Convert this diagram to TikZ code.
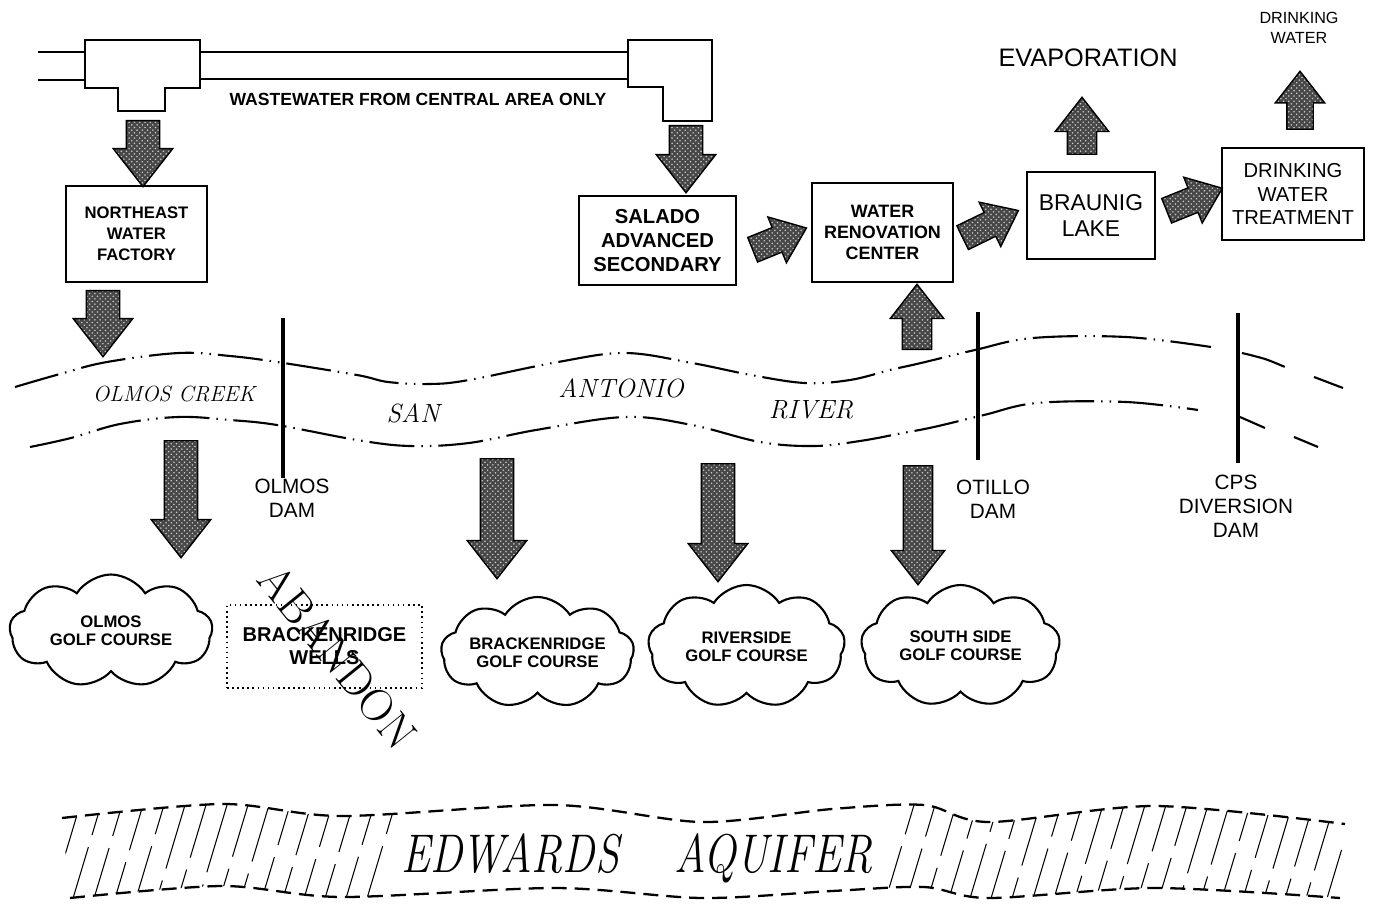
\documentclass[tikz,border=0pt]{standalone}
\usepackage{fontspec}
\setsansfont{Liberation Sans}
\usetikzlibrary{positioning, shapes.arrows, shapes.symbols, patterns}

\def\px{0.02cm}
\newcommand\boldlabel[2]{\sffamily\bfseries\fontsize{#1}{#2}\selectfont}
\newcommand\thinlabel[2]{\sffamily\fontsize{#1}{#2}\selectfont}

\tikzset{
    plant/.style={draw, line width=1.6pt, align=center, inner sep=0pt},
    golf/.style={cloud, cloud puffs=9, cloud puff arc=115, cloud ignores aspect, draw,
        line width=1.2pt, align=center, inner sep=0pt, font={\boldlabel{9.5}{10.5}}},
    damlabel/.style={align=center, font={\thinlabel{11.8}{13.7}}},
    rivername/.style={font={\itshape\fontsize{15}{18}\selectfont}},
    dam/.style={line width=2.6pt},
    pipe/.style={line width=1.3pt, line join=miter},
    riverbank/.style={line width=1.2pt,
        dash pattern=on 9mm off 1.4mm on 0.3mm off 1.4mm on 0.3mm off 1.4mm},
    aquiferbank/.style={line width=1.3pt, dash pattern=on 3mm off 1.6mm},
    hatch/.style={line width=0.6pt},
    flowarrow/.style={single arrow, draw, line width=0.8pt, preaction={fill=black!72},
        pattern=crosshatch dots, pattern color=black!22, inner xsep=0pt,
        single arrow tip angle=76},
    bigarrow/.style={flowarrow, inner ysep=0.32cm, single arrow head extend=0.26cm,
        minimum width=1.16cm},
    midarrow/.style={flowarrow, inner ysep=0.28cm, single arrow head extend=0.24cm,
        minimum width=1.04cm},
    smallarrow/.style={flowarrow, inner ysep=0.25cm, single arrow head extend=0.23cm,
        minimum width=0.96cm},
}

\begin{document}
\begin{tikzpicture}[x=\px, y=-\px]
    \useasboundingbox (0,0) rectangle (1378,905);

    % wastewater pipe with tee and elbow
    \draw[pipe] (38,52) -- (85,52);
    \draw[pipe] (38,80) -- (85,80);
    \draw[pipe] (85,40) -- (200,40) -- (200,88) -- (165,88) -- (165,111)
        -- (118,111) -- (118,88) -- (85,88) -- cycle;
    \draw[pipe] (200,52) -- (628,52);
    \draw[pipe] (200,79) -- (628,79);
    \draw[pipe] (628,40) -- (712,40) -- (712,121) -- (663,121) -- (663,87)
        -- (628,87) -- cycle;
    \node[font={\boldlabel{10}{12}}] (waste) at (418,99) {WASTEWATER FROM CENTRAL AREA ONLY};

    % plants
    \node[plant, minimum width=141*\px, minimum height=96*\px, font={\boldlabel{9.5}{12}}]
        (nwf) at (136.5,234) {NORTHEAST\\WATER\\FACTORY};
    \node[plant, minimum width=157*\px, minimum height=89*\px, font={\boldlabel{11.5}{13.7}}]
        (salado) at (657.5,240.5) {SALADO\\ADVANCED\\SECONDARY};
    \node[plant, minimum width=141*\px, minimum height=99*\px, font={\boldlabel{10.2}{12}}]
        (wrc) at (882.5,232.5) {WATER\\RENOVATION\\CENTER};
    \node[plant, minimum width=128*\px, minimum height=87*\px, font={\thinlabel{13}{14.8}}]
        (braunig) at (1091,215.5) {BRAUNIG\\LAKE};
    \node[plant, minimum width=142*\px, minimum height=92*\px, font={\thinlabel{11.5}{13.4}}]
        (dwt) at (1293,194) {DRINKING\\WATER\\TREATMENT};

    \node[font={\thinlabel{14.4}{16}}] (evap) at (1088,58) {EVAPORATION};
    \node[align=center, font={\thinlabel{9.2}{11.4}}] (drink) at (1299,28) {DRINKING\\WATER};

    % flow arrows
    \node[bigarrow, rotate=-90, anchor=tail, minimum height=66*\px] (a1) at (143,120) {};
    \node[bigarrow, rotate=-90, anchor=tail, minimum height=67*\px] (a2) at (686,125) {};
    \node[bigarrow, rotate=-90, anchor=tail, minimum height=66*\px] (a3) at (103,290) {};
    \node[bigarrow, rotate=-90, anchor=tail, minimum height=117*\px] (a4) at (181,440) {};
    \node[bigarrow, rotate=-90, anchor=tail, minimum height=120*\px] (a5) at (497,458) {};
    \node[bigarrow, rotate=-90, anchor=tail, minimum height=118*\px] (a6) at (718,463) {};
    \node[midarrow, rotate=-90, anchor=tail, minimum height=119*\px] (a7) at (918,465) {};
    \node[midarrow, rotate=90, anchor=tail, minimum height=65*\px] (a8) at (917,350) {};
    \node[midarrow, rotate=90, anchor=tail, minimum height=57*\px] (a9) at (1082,155) {};
    \node[smallarrow, rotate=90, anchor=tail, minimum height=58*\px] (a10) at (1300,130) {};
    \node[smallarrow, rotate=22, anchor=tail, minimum height=58*\px] (a11) at (752,250) {};
    \node[smallarrow, rotate=26, anchor=tail, minimum height=62*\px] (a12) at (962,238) {};
    \node[smallarrow, rotate=22, anchor=tail, minimum height=60*\px] (a13) at (1166,211) {};

    % river banks
    \draw[riverbank] plot[smooth, tension=0.6] coordinates {
        (15,387) (60,374) (107,362) (179,353) (230,356) (277,362) (357,375) (388,382)
        (430,384) (469,380) (558,362) (625,353) (692,363) (751,375) (805,383)
        (850,380) (890,370) (921,363) (975,350) (1033,338) (1126,337) (1211,347)};
    \draw[riverbank] plot[smooth] coordinates {(1242,353) (1265,359) (1285,367)};
    \draw[riverbank] (1314,377) -- (1343,388);
    \draw[riverbank] plot[smooth, tension=0.6] coordinates {
        (30,447) (71,438) (120,424) (178,417) (230,420) (277,425) (357,440) (410,446)
        (469,443) (536,430) (625,417) (692,425) (760,442) (814,446) (860,441)
        (903,433) (934,427) (984,415) (1037,403) (1126,402) (1198,410)};
    \draw[riverbank] (1240,417) -- (1265,428);
    \draw[riverbank] (1294,437) -- (1318,447);

    \node[font={\itshape\fontsize{12.5}{15}\selectfont}] (creek) at (174,394) {OLMOS CREEK};
    \node[rivername] (san) at (413,413) {SAN};
    \node[rivername] (antonio) at (621,388) {ANTONIO};
    \node[rivername] (river) at (811,410) {RIVER};

    % dams
    \draw[dam] (283,318) -- (283,478);
    \draw[dam] (978,312) -- (978,460);
    \draw[dam] (1238,313) -- (1238,463);
    \node[damlabel] (olmosdam) at (292,498) {OLMOS\\DAM};
    \node[damlabel] (otillodam) at (993,499) {OTILLO\\DAM};
    \node[damlabel] (cpsdam) at (1236,506) {CPS\\DIVERSION\\DAM};

    % golf courses and wells
    \node[golf, minimum width=203*\px, minimum height=113*\px] (olmosgc) at (111,631)
        {OLMOS\\GOLF COURSE};
    \node[draw, dotted, line width=0.9pt, minimum width=195*\px, minimum height=83*\px,
        align=center, font={\boldlabel{11.4}{13}}] (brwells) at (324.5,646.5)
        {BRACKENRIDGE\\WELLS};
    \node[golf, minimum width=193*\px, minimum height=111*\px] (brgc) at (537.5,652.5)
        {BRACKENRIDGE\\GOLF COURSE};
    \node[golf, minimum width=197*\px, minimum height=123*\px] (rsgc) at (746.5,646.5)
        {RIVERSIDE\\GOLF COURSE};
    \node[golf, minimum width=199*\px, minimum height=122*\px] (ssgc) at (960.5,646)
        {SOUTH SIDE\\GOLF COURSE};
    \node[rotate=-51, font={\fontsize{26}{28}\selectfont}] (abandon) at (338,657) {ABANDON};

    % aquifer
    \pgfmathsetseed{7}
    \begin{scope}
        \clip plot[smooth] coordinates {(62,818) (222,804) (342,816) (555,805) (702,822)
            (832,809) (924,805) (989,822) (1155,806) (1345,824)}
            -- plot[smooth] coordinates {(1340,898) (1155,888) (989,898) (924,887)
            (832,891) (702,898) (555,888) (342,897) (222,886) (70,898)} -- cycle;
        \foreach \x in {50,71,...,365, 884,905,...,1346} {
            \pgfmathsetmacro\brk{835+rnd*45}
            \draw[hatch] (\x,905) -- ({\x+(905-\brk-6)*0.3},\brk+6);
            \draw[hatch] ({\x+(905-\brk+6)*0.3},\brk-6) -- (\x+31.5,800);
        }
    \end{scope}
    \draw[aquiferbank] plot[smooth] coordinates {(62,818) (222,804) (342,816) (555,805)
        (702,822) (832,809) (924,805) (989,822) (1155,806) (1345,824)};
    \draw[aquiferbank] plot[smooth] coordinates {(70,898) (222,886) (342,897) (555,888)
        (702,898) (832,891) (924,887) (989,898) (1155,888) (1340,898)};
    \node[fill=white, inner sep=2pt, font={\itshape\fontsize{24.8}{28}\selectfont}] (aquifer) at (637,858)
        {\scalebox{1}[1.25]{EDWARDS\hspace{1.1cm}AQUIFER}};
\end{tikzpicture}
\end{document}
